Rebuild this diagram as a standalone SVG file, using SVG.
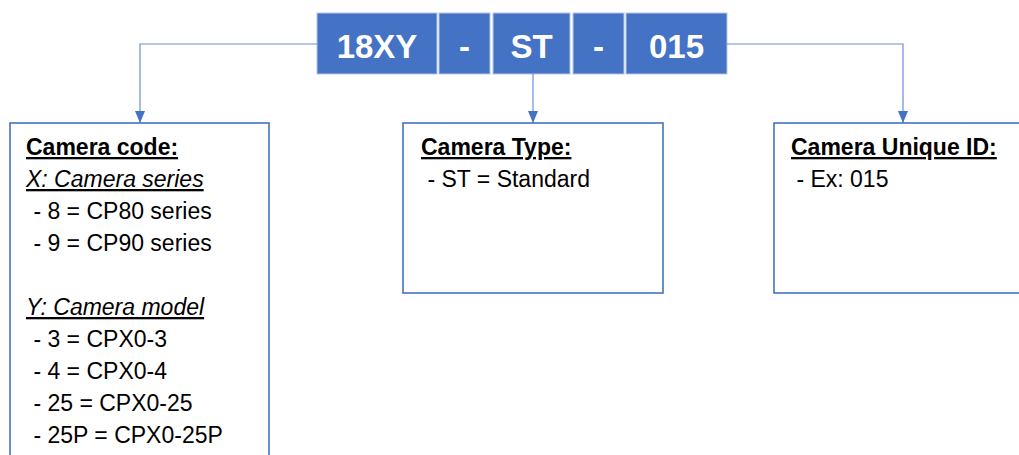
<svg xmlns="http://www.w3.org/2000/svg" width="1019" height="455" viewBox="0 0 1019 455">
<style>
.seg{fill:#4472C4;stroke:#B4C7E7;stroke-width:1}
.segt{font-family:"Liberation Sans",Arial,sans-serif;font-weight:bold;font-size:33px;fill:#FFFFFF;text-anchor:middle}
.box{fill:#FFFFFF;stroke:#4472C4;stroke-width:1.6}
.t{font-family:"Liberation Sans",Arial,sans-serif;font-size:23px;fill:#000000}
.h{font-weight:bold;text-decoration:underline}
.i{font-style:italic;text-decoration:underline}
.c{fill:none;stroke:#6D8FD3;stroke-width:1.2}
</style>
<defs>
<marker id="arr" markerWidth="12" markerHeight="10" refX="12" refY="5" orient="auto" markerUnits="userSpaceOnUse">
<path d="M0,0 L12,5 L0,10 Z" fill="#4472C4"/>
</marker>
</defs>
<g id="code">
<rect id="seg1" class="seg" x="317" y="13" width="120" height="61"/>
<rect id="seg2" class="seg" x="439" y="13" width="51" height="61"/>
<rect id="seg3" class="seg" x="493" y="13" width="77" height="61"/>
<rect id="seg4" class="seg" x="573" y="13" width="51" height="61"/>
<rect id="seg5" class="seg" x="626" y="13" width="101" height="61"/>
<text class="segt" x="377" y="58">18XY</text>
<text class="segt" x="464.5" y="58">-</text>
<text class="segt" x="531.5" y="58">ST</text>
<text class="segt" x="598.5" y="58">-</text>
<text class="segt" x="676.5" y="58">015</text>
</g>
<g id="connectors">
<polyline class="c" points="317,44 140,44 140,123" marker-end="url(#arr)"/>
<polyline class="c" points="533,74 533,123" marker-end="url(#arr)"/>
<polyline class="c" points="727,44 903,44 903,123" marker-end="url(#arr)"/>
</g>
<g id="camera-code">
<rect class="box" x="10" y="123" width="259" height="340"/>
<text class="t h" x="26" y="155">Camera code:</text>
<text class="t i" x="26" y="187">X: Camera series</text>
<text class="t" x="27" y="219" xml:space="preserve"> - 8 = CP80 series</text>
<text class="t" x="27" y="251" xml:space="preserve"> - 9 = CP90 series</text>
<text class="t i" x="26" y="315">Y: Camera model</text>
<text class="t" x="27" y="347" xml:space="preserve"> - 3 = CPX0-3</text>
<text class="t" x="27" y="379" xml:space="preserve"> - 4 = CPX0-4</text>
<text class="t" x="27" y="411" xml:space="preserve"> - 25 = CPX0-25</text>
<text class="t" x="27" y="443" xml:space="preserve"> - 25P = CPX0-25P</text>
</g>
<g id="camera-type">
<rect class="box" x="403" y="123" width="260" height="170"/>
<text class="t h" x="421" y="155">Camera Type:</text>
<text class="t" x="421" y="187" xml:space="preserve"> - ST = Standard</text>
</g>
<g id="camera-id">
<rect class="box" x="774" y="123" width="260" height="170"/>
<text class="t h" x="791" y="155">Camera Unique ID:</text>
<text class="t" x="790" y="187" xml:space="preserve"> - Ex: 015</text>
</g>
</svg>
